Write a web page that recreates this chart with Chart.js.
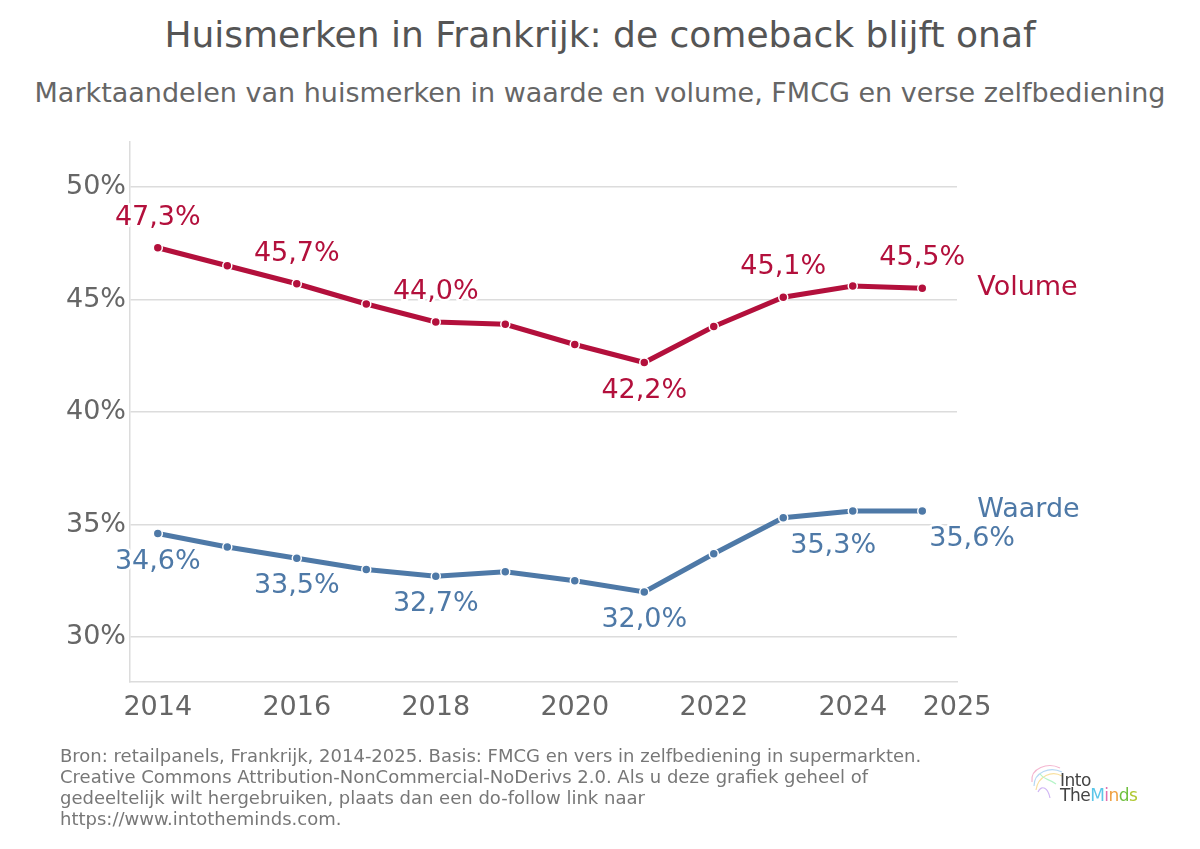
<!DOCTYPE html>
<html><head><meta charset="utf-8">
<script src="https://cdn.jsdelivr.net/npm/chart.js@4"></script>
<style>
body{margin:0;width:1200px;height:849px;overflow:hidden;background:#fff;font-family:"DejaVu Sans",sans-serif;position:relative}
#title{position:absolute;left:0;width:1200px;top:13px;text-align:center;font-size:36px;color:#555;line-height:44px;white-space:nowrap}
#subtitle{position:absolute;left:0;width:1200px;top:76px;text-align:center;font-size:27px;color:#666;line-height:34px;white-space:nowrap}
#wrap{position:absolute;left:0;top:0;width:1200px;height:849px}
#footer{position:absolute;left:60px;top:745px;font-size:18px;color:#777;line-height:21px;white-space:nowrap}
#logo{position:absolute;left:1028px;top:760px;width:120px;height:50px}
#logo .t{position:absolute;left:32px;font-size:17px;line-height:17px;color:#444;letter-spacing:-0.5px}
</style></head>
<body>
<div id="title">Huismerken in Frankrijk: de comeback blijft onaf</div>
<div id="subtitle">Marktaandelen van huismerken in waarde en volume, FMCG en verse zelfbediening</div>
<div id="wrap"><canvas id="c" width="1200" height="849"></canvas></div>
<div id="footer">Bron: retailpanels, Frankrijk, 2014-2025. Basis: FMCG en vers in zelfbediening in supermarkten.<br>Creative Commons Attribution-NonCommercial-NoDerivs 2.0. Als u deze grafiek geheel of<br>gedeeltelijk wilt hergebruiken, plaats dan een do-follow link naar<br>https://www.intotheminds.com.</div>
<div id="logo">
<svg width="40" height="44" style="position:absolute;left:0;top:0" viewBox="0 0 40 44">
<path d="M4 22 C2 8 20 2 32 8" stroke="#f4b6d0" fill="none" stroke-width="1.2"/>
<path d="M6 26 C6 12 22 6 34 12" stroke="#b6d8f4" fill="none" stroke-width="1.2"/>
<path d="M8 30 C10 16 24 10 34 16" stroke="#f8e0a0" fill="none" stroke-width="1.2"/>
<path d="M10 32 C14 24 20 28 22 38" stroke="#d0b6f4" fill="none" stroke-width="1.2"/>
<path d="M12 14 C16 20 20 18 28 24" stroke="#b6f4c8" fill="none" stroke-width="1.2"/>
</svg>
<div class="t" style="top:12px">Into</div>
<div class="t" style="top:27px">The<span style="color:#5bc6e8">M</span><span style="color:#e070b0">i</span><span style="color:#f0a040">n</span><span style="color:#70c040">d</span><span style="color:#b0c830">s</span></div>
</div>
<script>
const years  = [2014, 2015, 2016, 2017, 2018, 2019, 2020, 2021, 2022, 2023, 2024, 2025];
const volume = [47.3, 46.5, 45.7, 44.8, 44.0, 43.9, 43.0, 42.2, 43.8, 45.1, 45.6, 45.5];
const waarde = [34.6, 34.0, 33.5, 33.0, 32.7, 32.9, 32.5, 32.0, 33.7, 35.3, 35.6, 35.6];
const xTickValues = [2014, 2016, 2018, 2020, 2022, 2024];
const xEndLabel = "2025";
const yTickValues = [30, 35, 40, 45, 50];
const volumeLabelIdx = [0, 2, 4, 7, 9, 11];
const waardeLabelIdx = [0, 2, 4, 7, 9, 11];
const seriesNames = ["Volume", "Waarde"];

const RED = '#b3103c', BLUE = '#4e79a7';
const fmt = v => v.toFixed(1).replace('.', ',') + '%';

const labelPlugin = {
  id: 'labels',
  afterDatasetsDraw(chart) {
    const ctx = chart.ctx;
    const xs = chart.scales.x, ys = chart.scales.y;
    ctx.save();
    ctx.font = '27px "DejaVu Sans"';
    ctx.textBaseline = 'middle';
    ctx.lineJoin = 'round';
    const put = (txt, x, y, color, align) => {
      ctx.textAlign = align || 'center';
      ctx.strokeStyle = '#fff'; ctx.lineWidth = 5;
      ctx.strokeText(txt, x, y);
      ctx.fillStyle = color;
      ctx.fillText(txt, x, y);
    };
    volumeLabelIdx.forEach(i => {
      const x = xs.getPixelForValue(years[i]), y = ys.getPixelForValue(volume[i]);
      const below = i === 7;
      put(fmt(volume[i]), x, below ? y + 28 : y - 30, RED);
    });
    waardeLabelIdx.forEach(i => {
      const x = xs.getPixelForValue(years[i]), y = ys.getPixelForValue(waarde[i]);
      const shifted = i >= 9;
      put(fmt(waarde[i]), shifted ? x + 7 : x, y + 28, BLUE, shifted ? 'left' : 'center');
    });
    const lx = xs.getPixelForValue(years[years.length - 1]) + 55;
    put(seriesNames[0], lx, ys.getPixelForValue(volume[volume.length - 1]), RED, 'left');
    put(seriesNames[1], lx, ys.getPixelForValue(waarde[waarde.length - 1]) - 1, BLUE, 'left');
    ctx.restore();
  }
};

new Chart(document.getElementById('c'), {
  type: 'line',
  data: {
    datasets: [
      { label: seriesNames[0], data: years.map((y, i) => ({x: y, y: volume[i]})),
        borderColor: RED, backgroundColor: RED, borderWidth: 5,
        pointRadius: 4.5, pointBackgroundColor: RED, pointBorderColor: '#fff', pointBorderWidth: 1.5, tension: 0 },
      { label: seriesNames[1], data: years.map((y, i) => ({x: y, y: waarde[i]})),
        borderColor: BLUE, backgroundColor: BLUE, borderWidth: 5,
        pointRadius: 4.5, pointBackgroundColor: BLUE, pointBorderColor: '#fff', pointBorderWidth: 1.5, tension: 0 }
    ]
  },
  options: {
    responsive: false, animation: false, devicePixelRatio: 1,
    layout: { padding: { left: 0, top: 142, right: 243, bottom: 0 } },
    plugins: { legend: { display: false }, title: { display: false }, tooltip: { enabled: false } },
    scales: {
      x: {
        type: 'linear', min: 2013.6, max: 2025.5,
        afterBuildTicks: s => { s.ticks = xTickValues.concat([2025.5]).map(v => ({ value: v })); },
        afterFit: s => { s.height = 167; },
        ticks: { font: { size: 27, family: 'DejaVu Sans' }, color: '#666', padding: 2, maxRotation: 0, autoSkip: false,
          callback: v => v === 2025.5 ? xEndLabel : String(v) },
        grid: { display: false },
        border: { display: true, color: '#dcdcdc', width: 1.5 }
      },
      y: {
        min: 28, max: 52,
        afterBuildTicks: s => { s.ticks = yTickValues.map(v => ({ value: v })); },
        afterFit: s => { s.width = 130; },
        ticks: { font: { size: 27, family: 'DejaVu Sans' }, color: '#666', padding: 4, callback: v => v + '%' },
        grid: { color: '#dcdcdc', lineWidth: 1.5, drawTicks: false },
        border: { display: true, color: '#dcdcdc', width: 1.5 }
      }
    }
  },
  plugins: [labelPlugin]
});
</script>
</body></html>
